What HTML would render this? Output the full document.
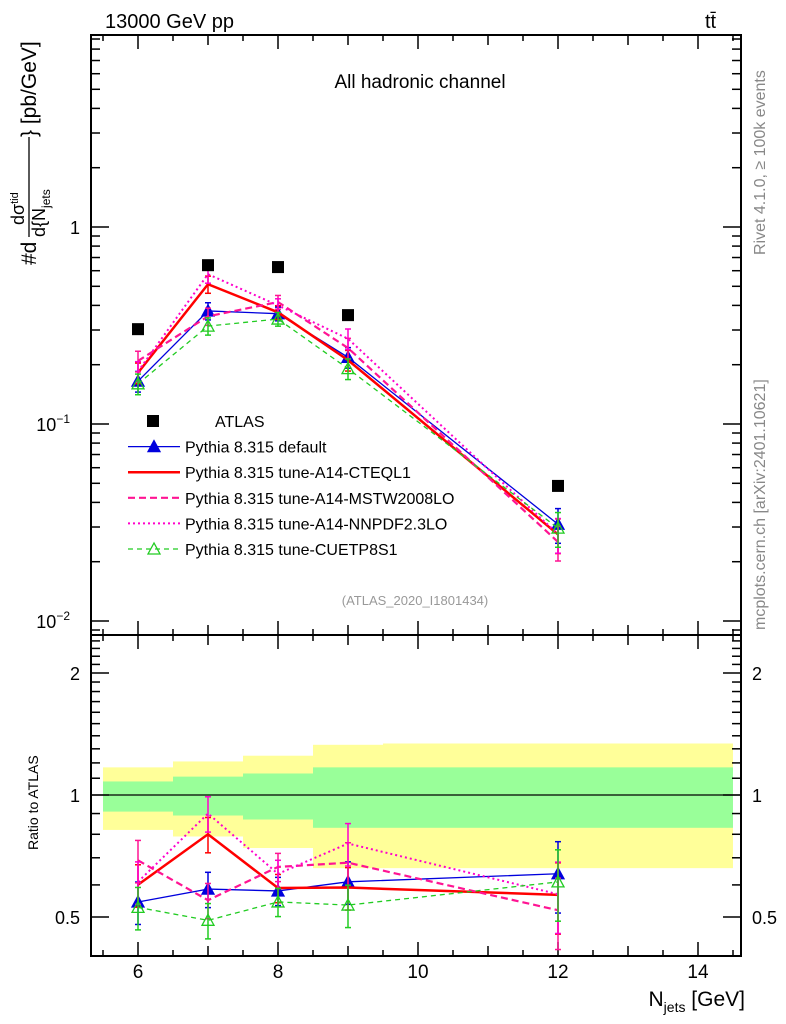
<!DOCTYPE html>
<html><head><meta charset="utf-8"><style>
body{margin:0;background:#fff}
svg{display:block;font-family:"Liberation Sans",sans-serif}
</style></head><body>
<svg id="chart" width="786" height="1024" viewBox="0 0 786 1024">
<text x="105" y="28" font-size="20">13000 GeV pp</text>
<text x="705" y="28" font-size="20">tt̄</text>
<text x="420" y="88" font-size="19" text-anchor="middle">All hadronic channel</text>
<text x="415" y="605" font-size="13" fill="#999" text-anchor="middle">(ATLAS_2020_I1801434)</text>
<text transform="translate(765,255) rotate(-90)" font-size="16" fill="#888">Rivet 4.1.0, ≥ 100k events</text>
<text transform="translate(765,630) rotate(-90)" font-size="16" fill="#888">mcplots.cern.ch [arXiv:2401.10621]</text>
<g transform="translate(38,265) rotate(-90)">
<text x="0" y="-2" font-size="21">#d</text>
<text x="40" y="-14" font-size="18">dσ<tspan font-size="11" dy="-6">tid</tspan></text>
<line x1="28" x2="128" y1="-9" y2="-9" stroke="#000" stroke-width="1.3"/>
<text x="28" y="7" font-size="18">d{N<tspan font-size="12" dy="5">jets</tspan></text>
<text x="128" y="-2" font-size="21">} [pb/GeV]</text>
</g>
<text transform="translate(38,850) rotate(-90)" font-size="14">Ratio to ATLAS</text>
<text x="745" y="1006" font-size="21" text-anchor="end">N<tspan font-size="14" dy="6">jets</tspan><tspan dy="-6"> [GeV]</tspan></text>
<g id="g"></g>
</svg>
<script>
const xCats=[6,7,8,9,12];
const atlas=[0.303,0.64,0.626,0.357,0.0485];
const sDefault=[0.165,0.375,0.363,0.218,0.031];
const sCTEQ=[0.182,0.512,0.369,0.211,0.0275];
const sMSTW=[0.209,0.352,0.416,0.243,0.0252];
const sNNPDF=[0.185,0.576,0.40,0.271,0.0276];
const sCUETP=[0.16,0.314,0.341,0.191,0.0296];
const relErr=[0.12,0.1,0.08,0.12,0.2];
const bandEdges=[5.5,6.5,7.5,8.5,9.5,14.5];
const yellowHi=[1.17,1.21,1.25,1.33,1.34];
const yellowLo=[0.82,0.79,0.74,0.66,0.66];
const greenHi=[1.08,1.11,1.13,1.17,1.17];
const greenLo=[0.91,0.89,0.87,0.83,0.83];
const xTicks=[6,8,10,12,14];
const yTicks=[1,0.1,0.01];
const yTickLabels=["1","10","10"];
const rTicks=[0.5,1,2];
const rTickLabels=["0.5","1","2"];

const NS="http://www.w3.org/2000/svg";
const g=document.getElementById('g');
const L=91,R=741,T=35,MB=635,RB=956;
const X=v=>138+(v-6)*70;
const Y=v=>227-197*Math.log10(v);
const RY=v=>795-122*Math.log2(v);
function mk(t,a){const e=document.createElementNS(NS,t);for(const k in a)e.setAttribute(k,a[k]);g.appendChild(e);return e;}

for(let i=0;i<5;i++){
 let e=mk('rect',{x:X(bandEdges[i]),y:RY(yellowHi[i]),width:X(bandEdges[i+1])-X(bandEdges[i]),height:RY(yellowLo[i])-RY(yellowHi[i]),fill:'#ffff99'});
 
 
 let f=mk('rect',{x:X(bandEdges[i]),y:RY(greenHi[i]),width:X(bandEdges[i+1])-X(bandEdges[i]),height:RY(greenLo[i])-RY(greenHi[i]),fill:'#99ff99'});
 
 
}
let one=mk('line',{x1:L,x2:R,y1:RY(1),y2:RY(1),stroke:'#000','stroke-width':1.2});



for(const [y1,y2,n] of [[T,MB,'main-frame'],[MB,RB,'ratio-frame']]){
 let r=mk('rect',{x:L,y:y1,width:R-L,height:y2-y1,fill:'none',stroke:'#000','stroke-width':2});
 
 
}
for(let v=5.5;v<=14.5;v+=0.5){
 const len=(v%2===0)?14:((v%1===0)?10:6);
 for(const yb of [MB,RB]){mk('line',{x1:X(v),x2:X(v),y1:yb,y2:yb-len,stroke:'#000','stroke-width':1.5});mk('line',{x1:X(v),x2:X(v),y1:yb===MB?T:MB,y2:(yb===MB?T:MB)+len,stroke:'#000','stroke-width':1.5});}
}
xTicks.forEach(v=>{let t=mk('text',{x:X(v),y:978,'font-size':19,'text-anchor':'middle'});t.textContent=v;
 
 });
for(let d=-3;d<=0;d++)for(let m=1;m<10;m++){const v=m*Math.pow(10,d);const y=Y(v);if(y<T||y>MB)continue;const len=m===1?18:9;
 mk('line',{x1:L,x2:L+len,y1:y,y2:y,stroke:'#000','stroke-width':1.5});mk('line',{x1:R,x2:R-len,y1:y,y2:y,stroke:'#000','stroke-width':1.5});}
yTicks.forEach((v,i)=>{let t=mk('text',{x:80,y:Y(v)+7,'font-size':18,'text-anchor':'end'});t.textContent=yTickLabels[i];
 if(v<1){const s=document.createElementNS(NS,'tspan');s.setAttribute('font-size','12');s.setAttribute('dy','-8');s.textContent=Math.log10(v)===-1?'−1':'−2';t.appendChild(s);t.setAttribute('x',70);}
 
 });
for(let v=0.4;v<=2.45;v+=0.1){const y=RY(v);if(y>RB-2||y<MB+2)continue;const maj=rTicks.some(r=>Math.abs(r-v)<1e-6);const len=maj?18:9;
 mk('line',{x1:L,x2:L+len,y1:y,y2:y,stroke:'#000','stroke-width':1.5});mk('line',{x1:R,x2:R-len,y1:y,y2:y,stroke:'#000','stroke-width':1.5});}
rTicks.forEach((v,i)=>{for(const [x,a] of [[80,'end'],[752,'start']]){let t=mk('text',{x:x,y:RY(v)+7,'font-size':18,'text-anchor':a});t.textContent=rTickLabels[i];
 
 }});

const series=[
 {d:sDefault,c:'#0000dd',w:1.3,da:'',m:'tri',n:'default'},
 {d:sCTEQ,c:'#ff0000',w:2.5,da:'',m:'none',n:'cteql1'},
 {d:sMSTW,c:'#ff1493',w:2.2,da:'7,4',m:'none',n:'mstw'},
 {d:sNNPDF,c:'#ff00cc',w:2,da:'2,3',m:'none',n:'nnpdf'},
 {d:sCUETP,c:'#22cc22',w:1.3,da:'5,4',m:'otri',n:'cuetp'}];
function tri(x,y,c,open,name){let p=mk('polygon',{points:`${x},${y-6} ${x-6},${y+5} ${x+6},${y+5}`,fill:open?'none':c,stroke:c,'stroke-width':1.3});
 
 }
series.forEach(s=>{
 const pm=s.d.map((v,i)=>X(xCats[i])+','+Y(v)).join(' ');
 const pr=s.d.map((v,i)=>X(xCats[i])+','+RY(v/atlas[i])).join(' ');
 let a=mk('polyline',{points:pm,fill:'none',stroke:s.c,'stroke-width':s.w,'stroke-dasharray':s.da});
 
 
 let b=mk('polyline',{points:pr,fill:'none',stroke:s.c,'stroke-width':s.w,'stroke-dasharray':s.da});
 
 
 s.d.forEach((v,i)=>{const x=X(xCats[i]);const e=relErr[i];
  for(const [f,yy] of [[Y,v],[RY,v/atlas[i]]]){
   const lo=Math.min(f(yy*(1-e)),f===RY?RB:9999);
   mk('line',{x1:x,x2:x,y1:f(yy*(1+e)),y2:lo,stroke:s.c,'stroke-width':1.5});
   mk('line',{x1:x-3,x2:x+3,y1:f(yy*(1+e)),y2:f(yy*(1+e)),stroke:s.c,'stroke-width':1.5});
   mk('line',{x1:x-3,x2:x+3,y1:lo,y2:lo,stroke:s.c,'stroke-width':1.5});
   if(s.m!=='none')tri(x,f(yy),s.c,s.m==='otri','marker-'+s.n);
  }});
});
atlas.forEach((v,i)=>{let r=mk('rect',{x:X(xCats[i])-6,y:Y(v)-6,width:12,height:12,fill:'#000'});
 
 });

const legNames=['ATLAS','Pythia 8.315 default','Pythia 8.315 tune-A14-CTEQL1','Pythia 8.315 tune-A14-MSTW2008LO','Pythia 8.315 tune-A14-NNPDF2.3LO','Pythia 8.315 tune-CUETP8S1'];
legNames.forEach((nm,i)=>{const y=421+i*25.6;
 if(i===0){mk('rect',{x:147,y:y-6,width:12,height:12,fill:'#000'});}
 else{const s=series[i-1];mk('line',{x1:128,x2:180,y1:y,y2:y,stroke:s.c,'stroke-width':s.w,'stroke-dasharray':s.da});
  if(s.m!=='none')tri(154,y,s.c,s.m==='otri','legend-marker');}
 let t=mk('text',{x:i===0?215:185,y:y+6,'font-size':16});t.textContent=nm;
 
 });
</script>
</body></html>
